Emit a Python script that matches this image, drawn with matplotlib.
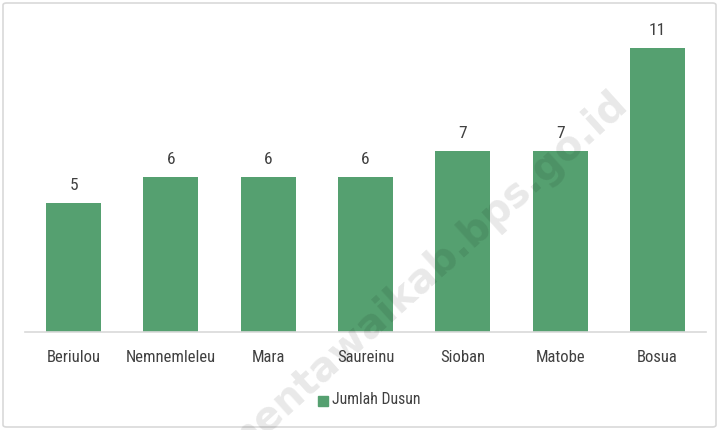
import matplotlib
matplotlib.use("Agg")
import matplotlib.pyplot as plt
from matplotlib.patches import Rectangle, FancyBboxPatch
from matplotlib import font_manager

categories = ["Beriulou", "Nemnemleleu", "Mara", "Saureinu", "Sioban", "Matobe", "Bosua"]
values = [5, 6, 6, 6, 7, 7, 11]
series_name = "Jumlah Dusun"

names = {f.name for f in font_manager.fontManager.ttflist}
cands = [n for n in ["Liberation Sans Narrow", "Roboto Condensed", "Open Sans Condensed", "DejaVu Sans"] if n in names]
plt.rcParams['font.family'] = cands
plt.rcParams['font.stretch'] = 'condensed'
bar_color = "#55A070"
text_color = "#404040"

fig = plt.figure(figsize=(7.19, 4.30), dpi=100)
ax = fig.add_axes([25/719, 1-332/430, 681/719, 310/430])
x = range(len(categories))
bars = ax.bar(x, values, width=0.565, color=bar_color, zorder=2)
ax.set_xlim(-0.5, len(categories)-0.5)
ax.set_ylim(0, 12)
for b, v in zip(bars, values):
    ax.annotate(str(v), (b.get_x()+b.get_width()/2, v), xytext=(0, 7), textcoords="offset points",
                ha="center", va="bottom", fontsize=12.5, color=text_color)
ax.set_xticks(list(x))
ax.set_xticklabels(categories, fontsize=12, color=text_color)
ax.tick_params(axis="x", length=0, pad=13)
ax.set_yticks([])
for s in ["top", "right", "left"]:
    ax.spines[s].set_visible(False)
ax.spines["bottom"].set_color("#d9d9d9")
ax.spines["bottom"].set_linewidth(1.2)

# legend
fig.patches.append(Rectangle((318/719, 1-406/430), 10/719, 10/430, transform=fig.transFigure,
                             color=bar_color, figure=fig))
fig.text(332/719, 1-400/430, series_name, fontsize=11.3, color=text_color, va="center", ha="left")

# watermark
fig.text(425/719, 1-275/430, "mentawaikab.bps.go.id", fontsize=29, fontweight="bold",
         color="#000000", alpha=0.09, rotation=42, ha="center", va="center",
         family="DejaVu Sans", fontstretch="normal", zorder=10)

# border
fig.patches.append(FancyBboxPatch((3/719, 3/430), 713/719, 424/430, boxstyle="round,pad=0,rounding_size=0.005",
                                  transform=fig.transFigure, fill=False, edgecolor="#d9d9d9",
                                  linewidth=1.2, figure=fig))

fig.savefig("out.png", dpi=100)
